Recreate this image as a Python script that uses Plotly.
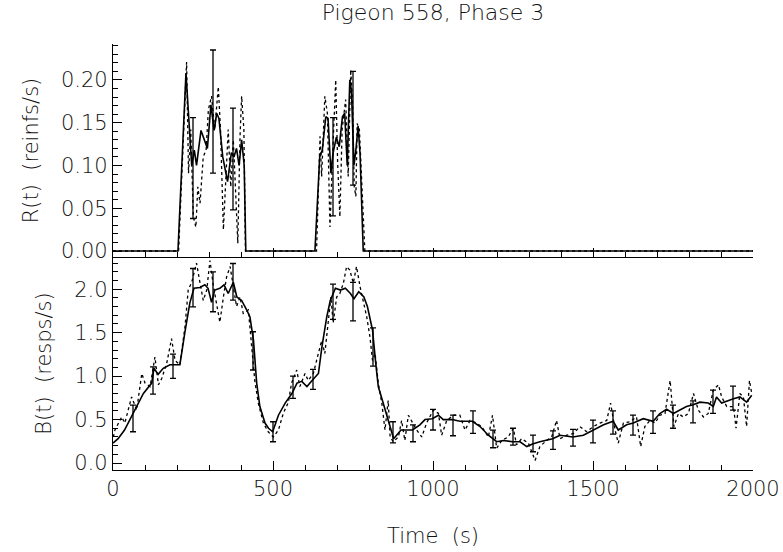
import plotly.graph_objects as go
from plotly.subplots import make_subplots

# ---------------- data ----------------
# R(t): model (solid) and data (dotted)
r_model_t = [0, 203, 228, 238, 246, 254, 261, 275, 295, 306, 316, 324, 331, 343, 358, 370, 378, 386, 394, 402, 410, 415,
             631, 646, 654, 665, 672, 681, 688, 698, 707, 717, 724, 732, 740, 745, 753, 759, 766, 772, 782, 2000]
r_model_v = [0, 0, 0.208, 0.15, 0.10, 0.118, 0.10, 0.141, 0.12, 0.171, 0.141, 0.161, 0.155, 0.11, 0.081, 0.115, 0.11, 0.12, 0.10, 0.13, 0.10, 0,
             0, 0.11, 0.118, 0.157, 0.155, 0.091, 0.115, 0.133, 0.122, 0.157, 0.161, 0.10, 0.20, 0.188, 0.10, 0.118, 0.146, 0.114, 0, 0]

r_data_t = [0, 205, 230, 236, 243, 251, 259, 265, 272, 282, 291, 298, 308, 318, 329, 336, 345, 353, 360, 368, 376, 383, 390, 397, 402, 409, 414,
            636, 647, 652, 662, 670, 678, 686, 696, 702, 709, 716, 727, 735, 743, 749, 754, 759, 763, 770, 777, 787, 2000]
r_data_v = [0, 0, 0.221, 0.091, 0.142, 0.040, 0.028, 0.075, 0.056, 0.110, 0.118, 0.165, 0.181, 0.142, 0.192, 0.142, 0.025, 0.087, 0.142, 0.075, 0.130, 0.071, 0.009, 0.134, 0.181, 0.142, 0,
            0, 0.134, 0.087, 0.181, 0.161, 0.028, 0.110, 0.200, 0.103, 0.040, 0.142, 0.177, 0.087, 0.212, 0.169, 0.075, 0.064, 0.149, 0.142, 0.083, 0, 0]

r_err_t = [250, 312.5, 375, 687.5, 750]
r_err_lo = [0.038, 0.091, 0.048, 0.041, 0.077]
r_err_hi = [0.156, 0.235, 0.167, 0.156, 0.210]

# B(t): model (solid) and data (dotted)
b_model_t = [0, 16, 36, 64, 95, 121, 128, 141, 157, 178, 209, 224, 240, 253, 272, 287, 297, 308, 318, 334, 347, 360, 376, 387,
             402, 418, 428, 439, 449, 459, 475, 486, 499, 517, 538, 559, 575, 590, 606, 627, 642, 653, 668, 679, 695, 711,
             726, 742, 753, 768, 784, 795, 811, 821, 829, 842, 858, 877, 900, 936, 959, 975, 998, 1017, 1032, 1060, 1084,
             1123, 1147, 1173, 1199, 1220, 1249, 1272, 1293, 1311, 1334, 1374, 1397, 1437, 1470, 1501, 1533, 1563, 1579,
             1605, 1626, 1657, 1688, 1709, 1730, 1751, 1772, 1792, 1813, 1834, 1860, 1876, 1886, 1902, 1939, 1959, 1980, 1996]
b_model_v = [0.23, 0.28, 0.38, 0.58, 0.80, 0.92, 1.09, 1.02, 1.09, 1.13, 1.13, 1.49, 1.84, 2.01, 2.02, 2.05, 2.01, 1.85, 1.99, 2.01, 2.05, 1.95, 2.08, 1.91,
             1.87, 1.76, 1.68, 1.41, 0.92, 0.65, 0.46, 0.40, 0.36, 0.55, 0.69, 0.80, 0.92, 0.94, 0.88, 0.97, 1.03, 1.34, 1.68, 1.87, 2.01, 1.99,
             2.01, 1.95, 1.89, 1.97, 1.91, 1.80, 1.53, 1.15, 0.88, 0.72, 0.53, 0.28, 0.38, 0.38, 0.44, 0.50, 0.51, 0.55, 0.50, 0.50, 0.48,
             0.48, 0.42, 0.32, 0.245, 0.26, 0.245, 0.245, 0.19, 0.22, 0.245, 0.28, 0.32, 0.30, 0.32, 0.38, 0.44, 0.48, 0.38,
             0.44, 0.46, 0.51, 0.48, 0.57, 0.62, 0.57, 0.61, 0.65, 0.67, 0.70, 0.69, 0.65, 0.76, 0.69, 0.74, 0.76, 0.70, 0.78]

b_data_t = [1, 6, 27, 37, 58, 74, 90, 100, 116, 131, 142, 152, 168, 183, 194, 209, 225, 235, 246, 261, 272, 282, 293, 303, 314,
            324, 334, 345, 355, 366, 376, 386, 397, 407, 423, 433, 443, 454, 470, 485, 501, 517, 532, 548, 558, 574, 584, 600,
            610, 626, 642, 652, 662, 673, 681, 688, 699, 709, 720, 730, 740, 751, 761, 772, 782, 793, 803, 811, 819, 829, 840,
            850, 860, 866, 876, 892, 902, 912, 923, 949, 965, 980, 1001, 1017, 1027, 1043, 1064, 1084, 1100, 1116, 1136, 1152,
            1173, 1186, 1199, 1215, 1235, 1251, 1261, 1277, 1298, 1319, 1334, 1355, 1371, 1386, 1397, 1418, 1439, 1459, 1480,
            1501, 1522, 1543, 1555, 1569, 1579, 1595, 1616, 1636, 1649, 1662, 1678, 1694, 1709, 1725, 1741, 1746, 1753, 1767,
            1782, 1798, 1814, 1829, 1845, 1860, 1876, 1892, 1902, 1918, 1939, 1947, 1959, 1970, 1980, 1989, 1996]
b_data_v = [0.30, 0.38, 0.53, 0.46, 0.76, 0.61, 1.03, 0.92, 0.88, 1.22, 0.90, 0.97, 1.15, 1.43, 1.18, 1.13, 1.57, 1.99, 2.08, 2.30, 2.07, 1.87, 1.99, 2.33, 2.03,
            1.80, 1.62, 1.91, 2.14, 2.26, 2.03, 1.80, 1.91, 1.72, 1.76, 1.38, 0.95, 0.69, 0.46, 0.36, 0.30, 0.38, 0.57, 0.70, 0.92, 1.07, 0.88, 1.03,
            0.95, 1.03, 1.26, 1.41, 1.26, 1.61, 1.91, 1.61, 1.91, 1.95, 2.07, 2.26, 2.22, 2.07, 2.26, 2.03, 1.87, 1.68, 1.45, 1.18, 1.26, 0.92, 0.69,
            0.38, 0.72, 0.30, 0.245, 0.30, 0.49, 0.26, 0.55, 0.38, 0.30, 0.46, 0.61, 0.57, 0.32, 0.49, 0.55, 0.55, 0.38, 0.49, 0.46, 0.42,
            0.30, 0.55, 0.17, 0.26, 0.30, 0.40, 0.21, 0.28, 0.23, 0.03, 0.19, 0.26, 0.30, 0.49, 0.28, 0.32, 0.34, 0.42, 0.36,
            0.42, 0.46, 0.49, 0.69, 0.38, 0.23, 0.46, 0.475, 0.53, 0.19, 0.42, 0.49, 0.46, 0.55, 0.57, 0.95, 0.76, 0.42, 0.57,
            0.53, 0.57, 0.80, 0.61, 0.53, 0.57, 0.84, 0.90, 0.76, 0.65, 0.65, 0.40, 0.80, 0.76, 0.42, 0.95, 0.80]

b_err_t = [62.5, 125, 187.5, 250, 312.5, 375, 437.5, 500, 562.5, 625, 687.5, 750, 812.5, 875, 937.5, 1000,
           1062.5, 1125, 1187.5, 1250, 1312.5, 1375, 1437.5, 1500, 1562.5, 1625, 1687.5, 1750, 1812.5, 1875, 1937.5]
b_err_lo = [0.36, 0.793, 0.973, 1.797, 1.74, 1.874, 1.07, 0.245, 0.743, 0.847, 1.652, 1.636, 1.115, 0.233, 0.245, 0.38,
            0.314, 0.341, 0.176, 0.207, 0.13, 0.157, 0.195, 0.233, 0.333, 0.322, 0.341, 0.40, 0.463, 0.571, 0.609]
b_err_hi = [0.667, 1.107, 1.253, 2.238, 2.2, 2.295, 1.51, 0.475, 1.0, 1.077, 2.057, 2.077, 1.555, 0.475, 0.44, 0.617,
            0.552, 0.601, 0.379, 0.40, 0.322, 0.371, 0.387, 0.494, 0.601, 0.552, 0.601, 0.667, 0.716, 0.839, 0.885]

title_text = "Pigeon 558, Phase 3"
r_label = "R(t)  (reinfs/s)"
b_label = "B(t)  (resps/s)"
x_label = "Time  (s)"
x_ticks = [0, 500, 1000, 1500, 2000]

# ---------------- figure ----------------
FONT = dict(family="DejaVu Sans", size=21, color="#111111", weight=200)

fig = make_subplots(rows=2, cols=1, shared_xaxes=True, vertical_spacing=0)


def add_panel(row, mt, mv, dt, dv, et, elo, ehi):
    fig.add_trace(go.Scatter(x=dt, y=dv, mode="lines",
                             line=dict(color="black", width=1.3, dash="dot"),
                             showlegend=False, hoverinfo="skip"), row=row, col=1)
    fig.add_trace(go.Scatter(x=mt, y=mv, mode="lines",
                             line=dict(color="black", width=1.6),
                             showlegend=False, hoverinfo="skip"), row=row, col=1)
    ctr = [(a + b) / 2 for a, b in zip(elo, ehi)]
    fig.add_trace(go.Scatter(x=et, y=ctr, mode="markers",
                             marker=dict(size=1, color="rgba(0,0,0,0)"),
                             error_y=dict(type="data", symmetric=False,
                                          array=[h - c for h, c in zip(ehi, ctr)],
                                          arrayminus=[c - l for c, l in zip(ctr, elo)],
                                          color="black", thickness=1.3, width=3),
                             showlegend=False, hoverinfo="skip"), row=row, col=1)


add_panel(1, r_model_t, r_model_v, r_data_t, r_data_v, r_err_t, r_err_lo, r_err_hi)
add_panel(2, b_model_t, b_model_v, b_data_t, b_data_v, b_err_t, b_err_lo, b_err_hi)

axis_common = dict(showline=True, linecolor="black", linewidth=1.3, showgrid=False, zeroline=False,
                   ticks="inside", ticklen=9, tickwidth=1.2, tickcolor="black", tickfont=FONT,
                   automargin=False)

fig.update_xaxes(**axis_common, range=[0, 2000], tickvals=x_ticks,
                 minor=dict(dtick=100, ticks="inside", ticklen=5, tickwidth=1, tickcolor="black"))
fig.update_xaxes(showticklabels=False, row=1, col=1)
fig.update_xaxes(title=dict(text=x_label, font=FONT, standoff=27), row=2, col=1)

fig.update_yaxes(**axis_common)
fig.update_yaxes(range=[-0.007, 0.242], tickvals=[0, 0.05, 0.10, 0.15, 0.20], tickformat=".2f",
                 minor=dict(dtick=0.01, tick0=0, ticks="inside", ticklen=5, tickwidth=1, tickcolor="black"),
                 title=dict(text=r_label, font=FONT, standoff=16), row=1, col=1)
fig.update_yaxes(range=[-0.08, 2.37], tickvals=[0, 0.5, 1.0, 1.5, 2.0], tickformat=".1f",
                 minor=dict(dtick=0.1, tick0=0, ticks="inside", ticklen=5, tickwidth=1, tickcolor="black"),
                 title=dict(text=b_label, font=FONT, standoff=16), row=2, col=1)

fig.update_layout(
    width=783, height=552,
    margin=dict(l=113, r=30, t=44, b=82),
    paper_bgcolor="white", plot_bgcolor="white",
    title=dict(text=title_text, font=dict(family="DejaVu Sans", size=22, color="#111111", weight=200),
               x=0.553, xanchor="center", y=0.978, yanchor="middle"),
    showlegend=False,
)

fig.write_html("out.html", config={"displayModeBar": False},
               post_script="document.body.style.margin='0';")
